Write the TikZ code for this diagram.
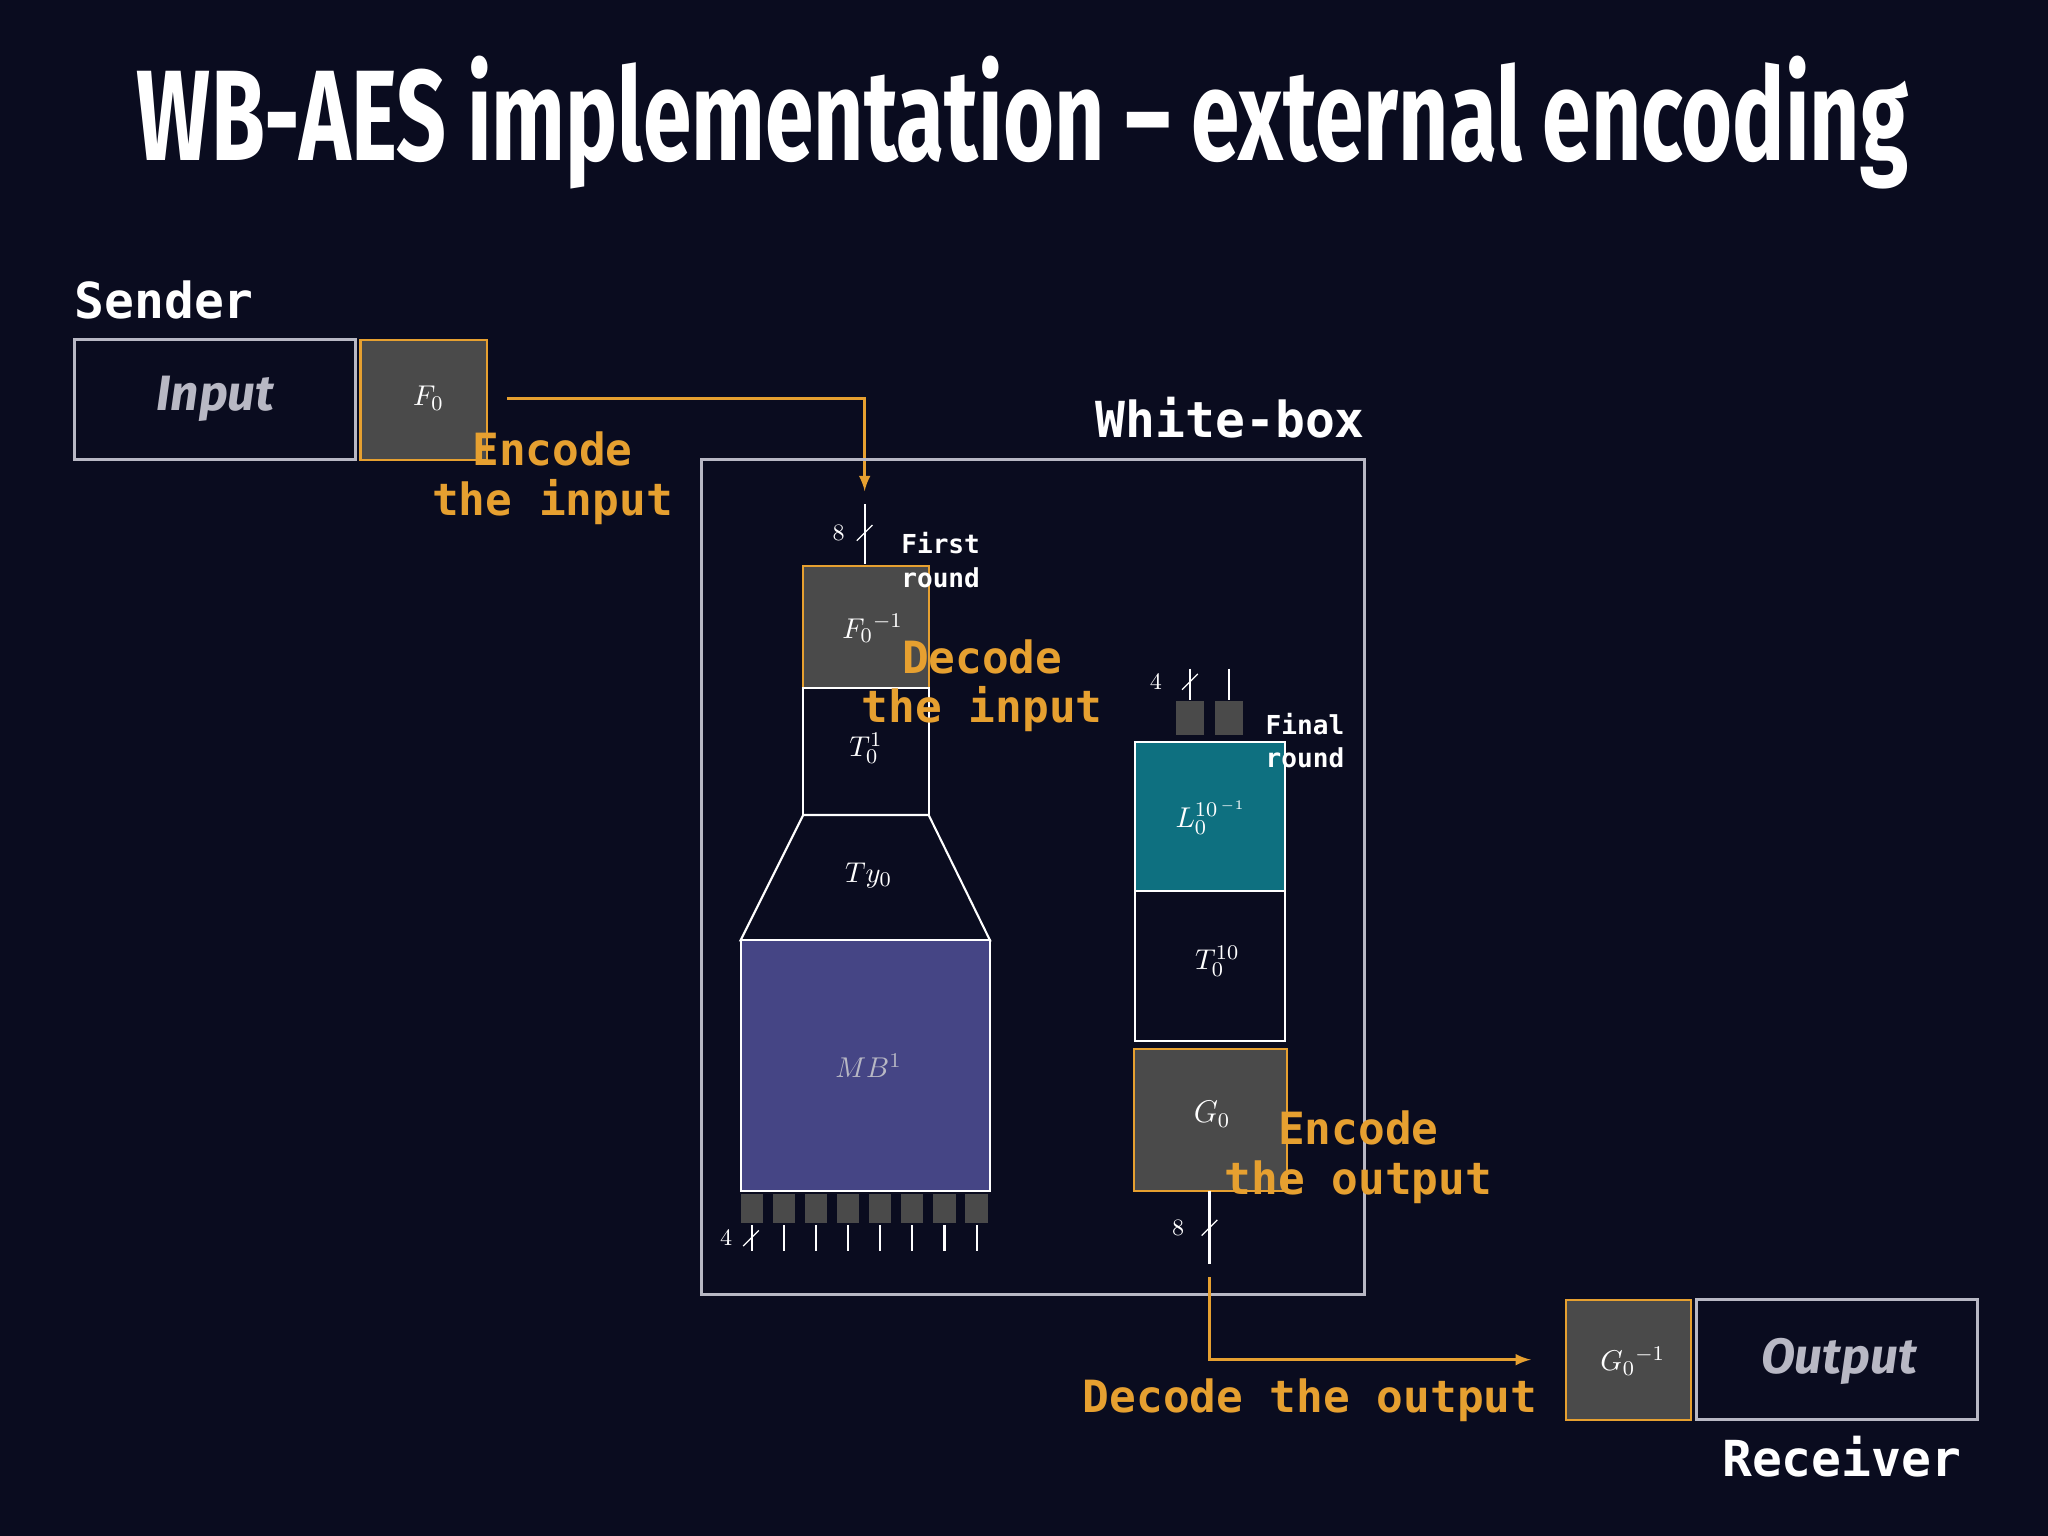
\documentclass[tikz,border=0pt]{standalone}
\usepackage{fontspec}
\setmainfont{Fira Sans}
\newfontfamily\mono{DejaVu Sans Mono}
\newfontfamily\tit{Fira Sans}
\definecolor{bg}{HTML}{0A0C1F}
\definecolor{org}{HTML}{E6A030}
\definecolor{gbox}{HTML}{4A4A4A}
\definecolor{purp}{HTML}{454585}
\definecolor{teal}{HTML}{0E7080}
\definecolor{lgray}{HTML}{B8B8C4}
\begin{document}
\begin{tikzpicture}[x=0.5pt,y=-0.5pt,
  gb/.style={fill=gbox,draw=org,line width=0.8pt},
  wb/.style={draw=white,line width=0.8pt},
  olab/.style={text=org,font=\mono\bfseries\fontsize{17}{19}\selectfont,align=center},
  wlab/.style={text=white,font=\mono\bfseries\fontsize{19}{21}\selectfont},
  slab/.style={text=white,font=\mono\bfseries\fontsize{10}{13}\selectfont,align=left,anchor=west},
  mt/.style={text=white,font=\fontsize{11}{12}\selectfont},
  pin/.style={draw=white,line width=0.8pt},
  oarr/.style={draw=org,line width=1pt,-latex}]
\fill[bg] (0,0) rectangle (1568,1176);
\useasboundingbox (0,0) rectangle (1568,1176);
\node[text=white] (title) at (783,94) {\resizebox{678pt}{40pt}{\tit\bfseries WB-AES implementation – external encoding}};
% sender
\node[wlab,anchor=west] (sender) at (50,230) {Sender};
\draw[draw=lgray,line width=1.2pt] (57,260) rectangle (272,352);
\node[text=lgray,font=\bfseries\itshape\fontsize{19}{21}\selectfont] (input) at (165,305) {Input};
\draw[gb] (276,260) rectangle (373,352);
\node[mt] (f0) at (328,305) {$F_0$};
\coordinate (a1) at (388,305);
\coordinate (a2) at (662,376);
\draw[oarr] (a1) -| (a2);
% white box
\draw[draw=lgray,line width=1.2pt] (537,352) rectangle (1045,991);
\node[wlab] (wbl) at (942,320) {White-box};
% first round
\draw[pin] (662,386) -- (662,432);
\draw[pin,line width=0.5pt] (656,414) -- (668,402);
\node[mt,font=\fontsize{9}{10}\selectfont] at (642,408) {$8$};
\draw[gb] (615,433) rectangle (711,527);
\node[mt] (finv) at (668,481) {$F_0{}^{-1}$};
\draw[wb] (615,527) rectangle (711,624);
\node[mt] (t01) at (663,573) {$T_0^1$};
\draw[wb] (615,624) -- (711,624) -- (758,720) -- (567,720) -- cycle;
\node[mt] (ty) at (665,670) {$Ty_0$};
\draw[wb,fill=purp] (567,720) rectangle (758,912);
\node[text=lgray,font=\fontsize{11}{12}\selectfont] (mb) at (665,816) {$MB^1$};
\foreach \i in {0,...,7}{
  \fill[gbox] (567+\i*24.6,914) rectangle (584+\i*24.6,936);
  \draw[pin] (575.5+\i*24.6,938) -- (575.5+\i*24.6,958);}
\draw[pin,line width=0.5pt] (569,954) -- (581,942);
\node[mt,font=\fontsize{9}{10}\selectfont] at (556,948) {$4$};
% final round
\draw[pin] (911,512) -- (911,536);
\draw[pin] (941,512) -- (941,536);
\draw[pin,line width=0.5pt] (905,528) -- (917,516);
\node[mt,font=\fontsize{9}{10}\selectfont] at (885,522) {$4$};
\fill[gbox] (900,537) rectangle (922,563);
\fill[gbox] (930,537) rectangle (952,563);
\draw[wb,fill=teal] (869,568) rectangle (984,682);
\node[mt] (l) at (927,626) {$L_0^{10^{\,-1}}$};
\draw[wb] (869,682) rectangle (984,797);
\node[mt] (t10) at (932,736) {$T_0^{10}$};
\draw[gb] (868,803) rectangle (985,912);
\node[mt,font=\fontsize{12}{13}\selectfont] (g0) at (928,853) {$G_0$};
\draw[pin] (926,912) -- (926,968);
\draw[pin,line width=0.5pt] (920,946) -- (932,934);
\node[mt,font=\fontsize{9}{10}\selectfont] at (902,940) {$8$};
\coordinate (b1) at (926,978);
\coordinate (b2) at (1172,1041);
\draw[oarr] (b1) |- (b2);
% receiver
\draw[gb] (1199,995) rectangle (1295,1087);
\node[mt] (ginv) at (1250,1042) {$G_0{}^{-1}$};
\draw[draw=lgray,line width=1.2pt] (1299,995) rectangle (1514,1087);
\node[text=lgray,font=\bfseries\itshape\fontsize{19}{21}\selectfont] (output) at (1408,1042) {Output};
\node[wlab] (recv) at (1410,1115) {Receiver};
% labels on top
\node[olab] (enci) at (423,366) {Encode\\the input};
\node[olab] (deci) at (752,525) {Decode\\the input};
\node[olab] (enco) at (1040,886) {Encode\\the output};
\node[olab] (deco) at (1003,1072) {Decode the output};
\node[slab] (first) at (683,429) {First\\round};
\node[slab] (final) at (962,567) {Final\\round};
\end{tikzpicture}
\end{document}
